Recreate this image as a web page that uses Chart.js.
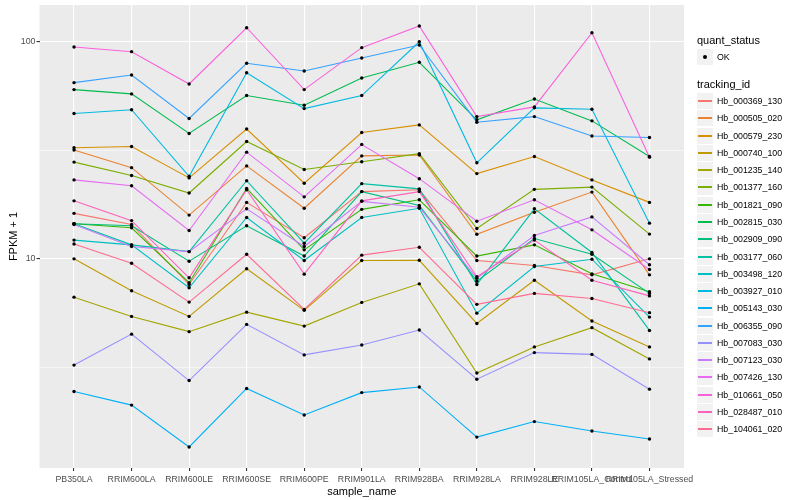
<!DOCTYPE html>
<html>
<head>
<meta charset="utf-8">
<script src="https://cdn.jsdelivr.net/npm/chart.js@4.4.1/dist/chart.umd.min.js"></script>
<style>
  body { margin: 0; background: #fff; font-family: "Liberation Sans", Arial, sans-serif; }
  #wrap { position: relative; width: 800px; height: 500px; }
  #c { position: absolute; left: 0; top: 0; }
  .ttl { position: absolute; font-size: 11px; line-height: 14px; color: #000; white-space: nowrap; }
  .key { position: absolute; width: 16px; height: 16px; background: #F2F2F2; }
  .kline { position: absolute; left: 1px; top: 7px; width: 14px; height: 2px; }
  .kdot { position: absolute; left: 6px; top: 6px; width: 4px; height: 4px; border-radius: 50%; background: #000; }
  .lab { position: absolute; font-size: 8.8px; line-height: 12px; color: #000; white-space: nowrap; }
</style>
</head>
<body>
<div id="wrap">
  <canvas id="c" width="800" height="500"></canvas>
  <div id="legend"></div>
</div>
<script>
// sample names on the x axis
var sampleNames = ['PB350LA', 'RRIM600LA', 'RRIM600LE', 'RRIM600SE', 'RRIM600PE', 'RRIM901LA',
  'RRIM928BA', 'RRIM928LA', 'RRIM928LE', 'RRIM105LA_Control', 'RRIM105LA_Stressed'];

// FPKM + 1 per gene (same order as sampleNames)
var hb_000369_130 = [16.2, 14.4, 7.62, 18.2, 12.5, 20.4, 20.8, 9.82, 9.32, 8.44, 10.0];
var hb_000505_020 = [31.7, 26.3, 15.9, 26.8, 17.1, 29.8, 30.1, 12.97, 16.4, 20.3, 8.44];
var hb_000579_230 = [32.5, 32.9, 23.6, 39.6, 22.3, 38.2, 41.4, 24.7, 29.6, 23.1, 18.2];
var hb_000740_100 = [10.0, 7.13, 5.43, 9.0, 5.79, 9.82, 9.85, 5.04, 7.97, 5.17, 3.93];
var hb_001235_140 = [6.66, 5.43, 4.62, 5.68, 4.90, 6.30, 7.67, 2.98, 3.93, 4.82, 3.46];
var hb_001377_160 = [27.9, 24.2, 20.1, 34.7, 25.8, 28.0, 30.5, 13.8, 20.9, 21.4, 13.0];
var hb_001821_090 = [14.5, 13.9, 7.76, 21.1, 11.0, 16.9, 18.7, 10.3, 11.6, 8.53, 7.05];
var hb_002815_030 = [60.2, 57.5, 37.8, 56.5, 51.0, 68.1, 80.4, 43.7, 54.5, 43.2, 29.6];
var hb_002909_090 = [14.5, 14.2, 9.75, 14.2, 10.3, 20.4, 17.6, 7.89, 12.4, 10.5, 6.93];
var hb_003177_060 = [14.5, 11.6, 10.8, 22.9, 11.8, 22.2, 21.0, 7.62, 17.0, 10.7, 4.68];
var hb_003498_120 = [12.2, 11.6, 7.36, 15.5, 9.82, 15.5, 17.1, 5.62, 9.22, 9.96, 5.39];
var hb_003927_010 = [46.7, 48.6, 24.0, 72.0, 49.2, 56.5, 100, 27.7, 49.6, 48.9, 14.6];
var hb_005143_030 = [2.45, 2.12, 1.36, 2.53, 1.91, 2.42, 2.57, 1.51, 1.78, 1.61, 1.48];
var hb_006355_090 = [64.8, 70.3, 44.3, 79.6, 73.3, 84.2, 96.6, 42.6, 45.2, 36.8, 36.2];
var hb_007083_030 = [3.24, 4.50, 2.75, 4.99, 3.61, 4.01, 4.70, 2.79, 3.70, 3.63, 2.51];
var hb_007123_030 = [14.4, 11.4, 10.8, 17.0, 11.4, 18.4, 17.3, 8.14, 12.8, 15.6, 9.39];
var hb_007426_130 = [23.1, 21.7, 13.5, 31.0, 19.3, 33.6, 23.4, 14.9, 18.7, 13.6, 8.93];
var hb_010661_050 = [94.6, 90.0, 63.9, 116.0, 60.2, 93.9, 118.1, 45.2, 50.1, 110.0, 29.4];
var hb_028487_010 = [18.5, 15.0, 8.18, 20.8, 8.5, 18.5, 20.4, 8.27, 12.2, 7.97, 6.75];
var hb_104061_020 = [11.7, 9.54, 6.32, 10.5, 5.85, 10.4, 11.3, 6.17, 6.93, 6.57, 5.65];

var trackingIds = ['Hb_000369_130', 'Hb_000505_020', 'Hb_000579_230', 'Hb_000740_100', 'Hb_001235_140',
  'Hb_001377_160', 'Hb_001821_090', 'Hb_002815_030', 'Hb_002909_090', 'Hb_003177_060',
  'Hb_003498_120', 'Hb_003927_010', 'Hb_005143_030', 'Hb_006355_090', 'Hb_007083_030',
  'Hb_007123_030', 'Hb_007426_130', 'Hb_010661_050', 'Hb_028487_010', 'Hb_104061_020'];

var seriesValues = [hb_000369_130, hb_000505_020, hb_000579_230, hb_000740_100, hb_001235_140,
  hb_001377_160, hb_001821_090, hb_002815_030, hb_002909_090, hb_003177_060,
  hb_003498_120, hb_003927_010, hb_005143_030, hb_006355_090, hb_007083_030,
  hb_007123_030, hb_007426_130, hb_010661_050, hb_028487_010, hb_104061_020];

// ggplot hue palette, 20 levels
var seriesColors = ['#F8766D', '#EA8331', '#D89000', '#C09B00', '#A3A500', '#7CAE00', '#39B600',
  '#00BB4E', '#00BF7D', '#00C1A3', '#00BFC4', '#00BAE0', '#00B0F6', '#35A2FF', '#9590FF',
  '#C77CFF', '#E76BF3', '#FA62DB', '#FF62BC', '#FF6C91'];

var quantStatus = ['OK'];
var yTickValues = [10, 100];
var yMinorValues = [Math.pow(10, 0.5), Math.pow(10, 1.5)];

var fontFamily = '"Liberation Sans", Arial, sans-serif';

// y range like ggplot: data range in log space + 5% each side
var allLogs = [];
seriesValues.forEach(function (s) { s.forEach(function (v) { allLogs.push(Math.log10(v)); }); });
var lo = Math.min.apply(null, allLogs), hi = Math.max.apply(null, allLogs);
var pad = (hi - lo) * 0.05;
var yMin = Math.pow(10, lo - pad), yMax = Math.pow(10, hi + pad);

var datasets = trackingIds.map(function (id, i) {
  return {
    label: id,
    data: seriesValues[i].map(function (v, j) { return { x: j, y: v }; }),
    borderColor: seriesColors[i],
    borderWidth: 1.1,
    pointRadius: 0,
    fill: false,
    tension: 0,
    order: 40 - i
  };
});

// all the black points, drawn on top of every line
var pts = [];
seriesValues.forEach(function (s) { s.forEach(function (v, j) { pts.push({ x: j, y: v }); }); });
datasets.push({
  label: 'points',
  data: pts,
  showLine: false,
  pointRadius: 1.7,
  pointBackgroundColor: '#000000',
  pointBorderWidth: 0,
  order: -1
});

var panelBg = {
  id: 'panelBg',
  beforeDraw: function (chart) {
    var a = chart.chartArea, c = chart.ctx;
    c.save();
    c.fillStyle = '#FFFFFF';
    c.fillRect(0, 0, chart.width, chart.height);
    c.fillStyle = '#EBEBEB';
    c.fillRect(a.left, a.top, a.right - a.left, a.bottom - a.top);
    c.restore();
  }
};

function isMajor(ctx) {
  return ctx.tick && yTickValues.indexOf(ctx.tick.value) >= 0;
}

var chart = new Chart(document.getElementById('c').getContext('2d'), {
  type: 'line',
  data: { datasets: datasets },
  plugins: [panelBg],
  options: {
    responsive: false,
    animation: false,
    layout: { padding: { left: 0, right: 116, top: 5, bottom: 0 } },
    plugins: { legend: { display: false }, tooltip: { enabled: false } },
    scales: {
      x: {
        type: 'linear',
        min: -0.6,
        max: sampleNames.length - 0.4,
        afterBuildTicks: function (s) {
          s.ticks = sampleNames.map(function (n, j) { return { value: j }; });
        },
        afterFit: function (s) { s.height = 32; s.paddingLeft = 0; s.paddingRight = 0; },
        ticks: {
          autoSkip: false, maxRotation: 0, minRotation: 0,
          callback: function (v) { return sampleNames[v]; },
          color: '#4D4D4D', font: { size: 8.8, family: fontFamily }, padding: 3
        },
        grid: { color: '#FFFFFF', lineWidth: 1.1, tickLength: 3, tickColor: '#333333' },
        border: { display: false },
        title: {
          display: true, text: 'sample_name', color: '#000000',
          font: { size: 11, family: fontFamily }, padding: { top: 0, bottom: 1 }
        }
      },
      y: {
        type: 'logarithmic',
        min: yMin,
        max: yMax,
        afterBuildTicks: function (s) {
          s.ticks = yMinorValues.concat(yTickValues).sort(function (a, b) { return a - b; })
            .map(function (v) { return { value: v }; });
        },
        afterFit: function (s) { s.width = 39.5; s.paddingTop = 0; s.paddingBottom = 0; },
        ticks: {
          autoSkip: false,
          callback: function (v) { return yTickValues.indexOf(v) >= 0 ? String(v) : ''; },
          color: '#4D4D4D', font: { size: 8.8, family: fontFamily }, padding: 1
        },
        grid: {
          color: '#FFFFFF',
          lineWidth: function (ctx) { return isMajor(ctx) ? 1.1 : 0.55; },
          tickLength: 3,
          tickColor: function (ctx) { return isMajor(ctx) ? '#333333' : 'rgba(0,0,0,0)'; }
        },
        border: { display: false },
        title: {
          display: true, text: 'FPKM + 1', color: '#000000',
          font: { size: 11, family: fontFamily }, padding: { top: 7, bottom: 0 }
        }
      }
    }
  }
});

// ggplot-style legend on the right
var lg = document.getElementById('legend');
var html = '';
var kx = 697, tx = 717;
html += '<div class="ttl" style="left:' + kx + 'px;top:33px">quant_status</div>';
quantStatus.forEach(function (q, i) {
  var cy = 57 + i * 17.28;
  html += '<div class="key" style="left:' + kx + 'px;top:' + Math.round(cy - 8) + 'px">' +
    '<div class="kdot"></div></div>';
  html += '<div class="lab" style="left:' + tx + 'px;top:' + Math.round(cy - 6) + 'px">' + q + '</div>';
});
html += '<div class="ttl" style="left:' + kx + 'px;top:77px">tracking_id</div>';
trackingIds.forEach(function (id, i) {
  var cy = 101 + i * 17.28;
  html += '<div class="key" style="left:' + kx + 'px;top:' + Math.round(cy - 8) + 'px">' +
    '<div class="kline" style="background:' + seriesColors[i] + '"></div></div>';
  html += '<div class="lab" style="left:' + tx + 'px;top:' + Math.round(cy - 6) + 'px">' + id + '</div>';
});
lg.innerHTML = html;
</script>
</body>
</html>
